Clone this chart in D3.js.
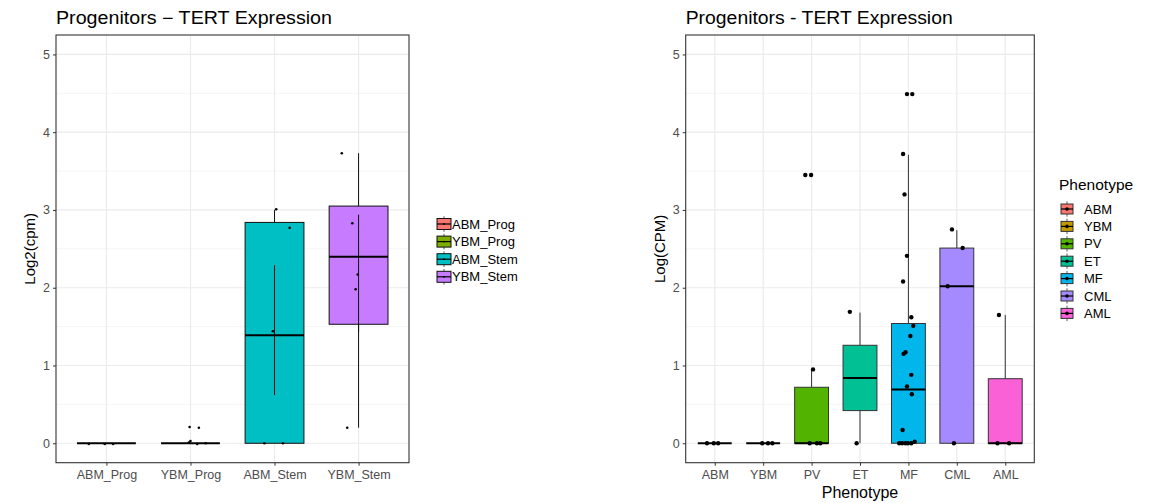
<!DOCTYPE html>
<html>
<head>
<meta charset="utf-8">
<script src="https://cdn.jsdelivr.net/npm/d3@7"></script>
<style>
  body { margin: 0; background: #fff; }
  svg { font-family: "Liberation Sans", Arial, sans-serif; }
</style>
</head>
<body>
<div id="chart"></div>
<script>

// ---- left panel data (Log2(cpm)) ----
var leftGroups = ["ABM_Prog", "YBM_Prog", "ABM_Stem", "YBM_Stem"];
var leftColors = ["#F8766D", "#7CAE00", "#00BFC4", "#C77CFF"];
var leftQ1  = [0, 0, 0,    1.53];
var leftMed = [0, 0, 1.39, 2.40];
var leftQ3  = [0, 0, 2.84, 3.05];
var leftLo  = [0, 0, 0,    0.20];
var leftHi  = [0, 0, 3.00, 3.73];
// second whisker layer drawn inside the boxes
var leftInnerLo = [null, null, 0.62, 1.43];
var leftInnerHi = [null, null, 2.29, 2.94];
// points: [group, jitter (category units), value]
var leftPoints = [
  ["ABM_Prog", -0.21, -0.01], ["ABM_Prog", -0.02, -0.01], ["ABM_Prog", 0.08, -0.01],
  ["YBM_Prog", -0.01, 0.21], ["YBM_Prog", 0.10, 0.20], ["YBM_Prog", 0.00, 0.03],
  ["YBM_Prog", -0.02, 0.01], ["YBM_Prog", 0.08, -0.01], ["YBM_Prog", 0.18, 0.00],
  ["ABM_Stem", 0.02, 3.01], ["ABM_Stem", 0.18, 2.77], ["ABM_Stem", -0.02, 1.44],
  ["ABM_Stem", -0.12, 0.00], ["ABM_Stem", 0.10, 0.00],
  ["YBM_Stem", -0.20, 3.73], ["YBM_Stem", -0.075, 2.83], ["YBM_Stem", -0.01, 2.17],
  ["YBM_Stem", -0.035, 1.98], ["YBM_Stem", -0.135, 0.20]
];

// ---- right panel data (Log(CPM)) ----
var rightGroups = ["ABM", "YBM", "PV", "ET", "MF", "CML", "AML"];
var rightColors = ["#F8766D", "#C49A00", "#53B400", "#00C094", "#00B6EB", "#A58AFF", "#FB61D7"];
var rightQ1  = [0, 0, 0,    0.42, 0,    0,    0];
var rightMed = [0, 0, 0,    0.84, 0.69, 2.02, 0];
var rightQ3  = [0, 0, 0.72, 1.26, 1.54, 2.51, 0.83];
var rightLo  = [0, 0, 0,    0,    0,    0,    0];
var rightHi  = [0, 0, 0.95, 1.68, 3.71, 2.74, 1.65];
var rightPoints = [
  ["ABM", -0.16, 0], ["ABM", -0.02, 0], ["ABM", 0.07, 0],
  ["YBM", -0.02, 0], ["YBM", 0.10, 0], ["YBM", 0.19, 0],
  ["PV", 0.03, 0.95], ["PV", -0.04, 0], ["PV", 0.11, 0], ["PV", 0.18, 0],
  ["PV", -0.13, 3.45], ["PV", -0.01, 3.45],
  ["ET", -0.21, 1.69], ["ET", -0.07, 0],
  ["MF", -0.03, 4.49], ["MF", 0.08, 4.49], ["MF", -0.11, 3.72], ["MF", -0.08, 3.20],
  ["MF", -0.03, 2.41], ["MF", -0.11, 2.08], ["MF", 0.06, 1.62], ["MF", 0.10, 1.51],
  ["MF", 0.04, 1.38], ["MF", -0.06, 1.17], ["MF", -0.10, 1.15], ["MF", 0.06, 0.88],
  ["MF", -0.03, 0.73], ["MF", 0.07, 0.63], ["MF", -0.12, 0.17],
  ["MF", -0.19, 0], ["MF", -0.13, 0], ["MF", -0.06, 0], ["MF", -0.01, 0],
  ["MF", 0.06, 0], ["MF", 0.13, 0.02],
  ["CML", -0.10, 2.75], ["CML", 0.12, 2.51], ["CML", -0.19, 2.02], ["CML", -0.06, 0],
  ["AML", -0.13, 1.65], ["AML", -0.16, 0], ["AML", 0.08, 0]
];

var yTicks = [0, 1, 2, 3, 4, 5];
var yMinor = [0.5, 1.5, 2.5, 3.5, 4.5];

var svg = d3.select("#chart").append("svg")
    .attr("width", 1158)
    .attr("height", 503);

function drawPanel(p){
  var g = svg.append("g");

  var x = d3.scalePoint().domain(p.groups).range([p.left, p.right]).padding(0.6);
  var y = d3.scaleLinear().domain([-0.25, 5.25]).range([p.bottom, p.top]);
  var bw = x.step() * 0.7;
  var color = d3.scaleOrdinal().domain(p.groups).range(p.colors);

  // grid
  g.selectAll(".minor").data(yMinor).enter().append("line")
    .attr("x1", p.left).attr("x2", p.right)
    .attr("y1", d => y(d)).attr("y2", d => y(d))
    .attr("stroke", "#f2f2f2").attr("stroke-width", 0.8);
  g.selectAll(".major").data(yTicks).enter().append("line")
    .attr("x1", p.left).attr("x2", p.right)
    .attr("y1", d => y(d)).attr("y2", d => y(d))
    .attr("stroke", "#ebebeb").attr("stroke-width", 1.2);
  g.selectAll(".vgrid").data(p.groups).enter().append("line")
    .attr("x1", d => x(d)).attr("x2", d => x(d))
    .attr("y1", p.top).attr("y2", p.bottom)
    .attr("stroke", "#ebebeb").attr("stroke-width", 1.2);

  var stats = p.groups.map(function(d, i){
    return {g: d, q1: p.q1[i], med: p.med[i], q3: p.q3[i], lo: p.lo[i], hi: p.hi[i],
            ilo: p.innerLo ? p.innerLo[i] : null, ihi: p.innerHi ? p.innerHi[i] : null};
  });

  // whiskers
  g.selectAll(".whiskHi").data(stats).enter().append("line")
    .attr("x1", d => x(d.g)).attr("x2", d => x(d.g))
    .attr("y1", d => y(d.q3)).attr("y2", d => y(d.hi))
    .attr("stroke", p.boxStroke).attr("stroke-width", 1);
  g.selectAll(".whiskLo").data(stats).enter().append("line")
    .attr("x1", d => x(d.g)).attr("x2", d => x(d.g))
    .attr("y1", d => y(d.q1)).attr("y2", d => y(d.lo))
    .attr("stroke", p.boxStroke).attr("stroke-width", 1);

  // boxes
  g.selectAll(".box").data(stats).enter().append("rect")
    .attr("x", d => x(d.g) - bw / 2)
    .attr("width", bw)
    .attr("y", d => y(d.q3))
    .attr("height", d => y(d.q1) - y(d.q3))
    .attr("fill", d => color(d.g))
    .attr("stroke", p.boxStroke).attr("stroke-width", 1);

  // inner whisker layer
  g.selectAll(".inner").data(stats.filter(d => d.ilo != null)).enter().append("line")
    .attr("x1", d => x(d.g)).attr("x2", d => x(d.g))
    .attr("y1", d => y(d.ilo)).attr("y2", d => y(d.ihi))
    .attr("stroke", "#111").attr("stroke-width", 1);

  // medians
  g.selectAll(".med").data(stats).enter().append("line")
    .attr("x1", d => x(d.g) - bw / 2).attr("x2", d => x(d.g) + bw / 2)
    .attr("y1", d => y(d.med)).attr("y2", d => y(d.med))
    .attr("stroke", "black").attr("stroke-width", 2);

  // points
  g.selectAll(".pt").data(p.points).enter().append("circle")
    .attr("cx", d => x(d[0]) + d[1] * x.step())
    .attr("cy", d => y(d[2]))
    .attr("r", p.pointR)
    .attr("fill", "black");

  // panel border
  g.append("rect")
    .attr("x", p.left).attr("y", p.top)
    .attr("width", p.right - p.left).attr("height", p.bottom - p.top)
    .attr("fill", "none").attr("stroke", "#333").attr("stroke-width", 1.1);

  // axes
  var yaxis = d3.axisLeft(y).tickValues(yTicks).tickFormat(d3.format("d")).tickSize(3).tickPadding(3);
  var xaxis = d3.axisBottom(x).tickSize(3).tickPadding(4);
  var ya = g.append("g").attr("transform", "translate(" + p.left + ",0)").call(yaxis);
  var xa = g.append("g").attr("transform", "translate(0," + p.bottom + ")").call(xaxis);
  [ya, xa].forEach(function(a){
    a.select(".domain").remove();
    a.selectAll(".tick line").attr("stroke", "#333");
    a.selectAll(".tick text").attr("fill", "#4d4d4d").attr("font-size", 12.5)
      .attr("font-family", "Liberation Sans, Arial, sans-serif");
  });

  // title
  g.append("text")
    .attr("x", p.left).attr("y", 23.5)
    .attr("font-size", 17.5).attr("fill", "black")
    .attr("textLength", p.titleW).attr("lengthAdjust", "spacingAndGlyphs")
    .text(p.title);

  // y label
  g.append("text")
    .attr("transform", "translate(" + p.yLabelX + "," + ((p.top + p.bottom) / 2) + ") rotate(-90)")
    .attr("text-anchor", "middle")
    .attr("font-size", 15).attr("fill", "black")
    .text(p.yLabel);

  if(p.xLabel){
    g.append("text")
      .attr("x", (p.left + p.right) / 2).attr("y", 498)
      .attr("text-anchor", "middle")
      .attr("font-size", 16).attr("fill", "black")
      .text(p.xLabel);
  }

  // legend
  var lg = g.append("g");
  if(p.legendTitle){
    lg.append("text")
      .attr("x", p.legX - 2).attr("y", p.legTitleY)
      .attr("font-size", 15.5).attr("fill", "black")
      .text(p.legendTitle);
  }
  var items = lg.selectAll(".item").data(p.groups).enter().append("g")
    .attr("transform", (d, i) => "translate(" + p.legX + "," + (p.legY + i * p.legStep) + ")");
  items.append("line")
    .attr("x1", p.legW / 2).attr("x2", p.legW / 2)
    .attr("y1", -p.legStep / 2 + 1).attr("y2", p.legStep / 2 - 1)
    .attr("stroke", "#333").attr("stroke-width", 0.8);
  items.append("rect")
    .attr("x", 0).attr("y", -p.legH / 2)
    .attr("width", p.legW).attr("height", p.legH)
    .attr("fill", d => color(d))
    .attr("stroke", p.boxStroke).attr("stroke-width", 1);
  items.append("line")
    .attr("x1", 0).attr("x2", p.legW)
    .attr("y1", 0).attr("y2", 0)
    .attr("stroke", "black").attr("stroke-width", 1.2);
  items.append("circle")
    .attr("cx", p.legW / 2).attr("cy", 0)
    .attr("r", p.legDot)
    .attr("fill", "black");
  items.append("text")
    .attr("x", p.legTextX).attr("y", 0)
    .attr("dy", "0.35em")
    .attr("font-size", 13).attr("fill", "black")
    .text(d => d);
}

drawPanel({
  groups: leftGroups, colors: leftColors,
  q1: leftQ1, med: leftMed, q3: leftQ3, lo: leftLo, hi: leftHi,
  innerLo: leftInnerLo, innerHi: leftInnerHi,
  points: leftPoints, pointR: 1.3, boxStroke: "#111",
  left: 56, right: 409, top: 35, bottom: 462.7,
  title: "Progenitors \u2212 TERT Expression", titleW: 276, yLabel: "Log2(cpm)", yLabelX: 35,
  legX: 437, legY: 224, legStep: 17.6, legW: 14, legH: 11, legDot: 0.9, legTextX: 15
});

drawPanel({
  groups: rightGroups, colors: rightColors,
  q1: rightQ1, med: rightMed, q3: rightQ3, lo: rightLo, hi: rightHi,
  points: rightPoints, pointR: 2.2, boxStroke: "#333",
  left: 685.7, right: 1034.3, top: 35, bottom: 462.7,
  title: "Progenitors - TERT Expression", titleW: 267, yLabel: "Log(CPM)", yLabelX: 665,
  xLabel: "Phenotype",
  legendTitle: "Phenotype", legTitleY: 190,
  legX: 1061, legY: 209, legStep: 17.4, legW: 12, legH: 10, legDot: 1.8, legTextX: 23
});

</script>
</body>
</html>
